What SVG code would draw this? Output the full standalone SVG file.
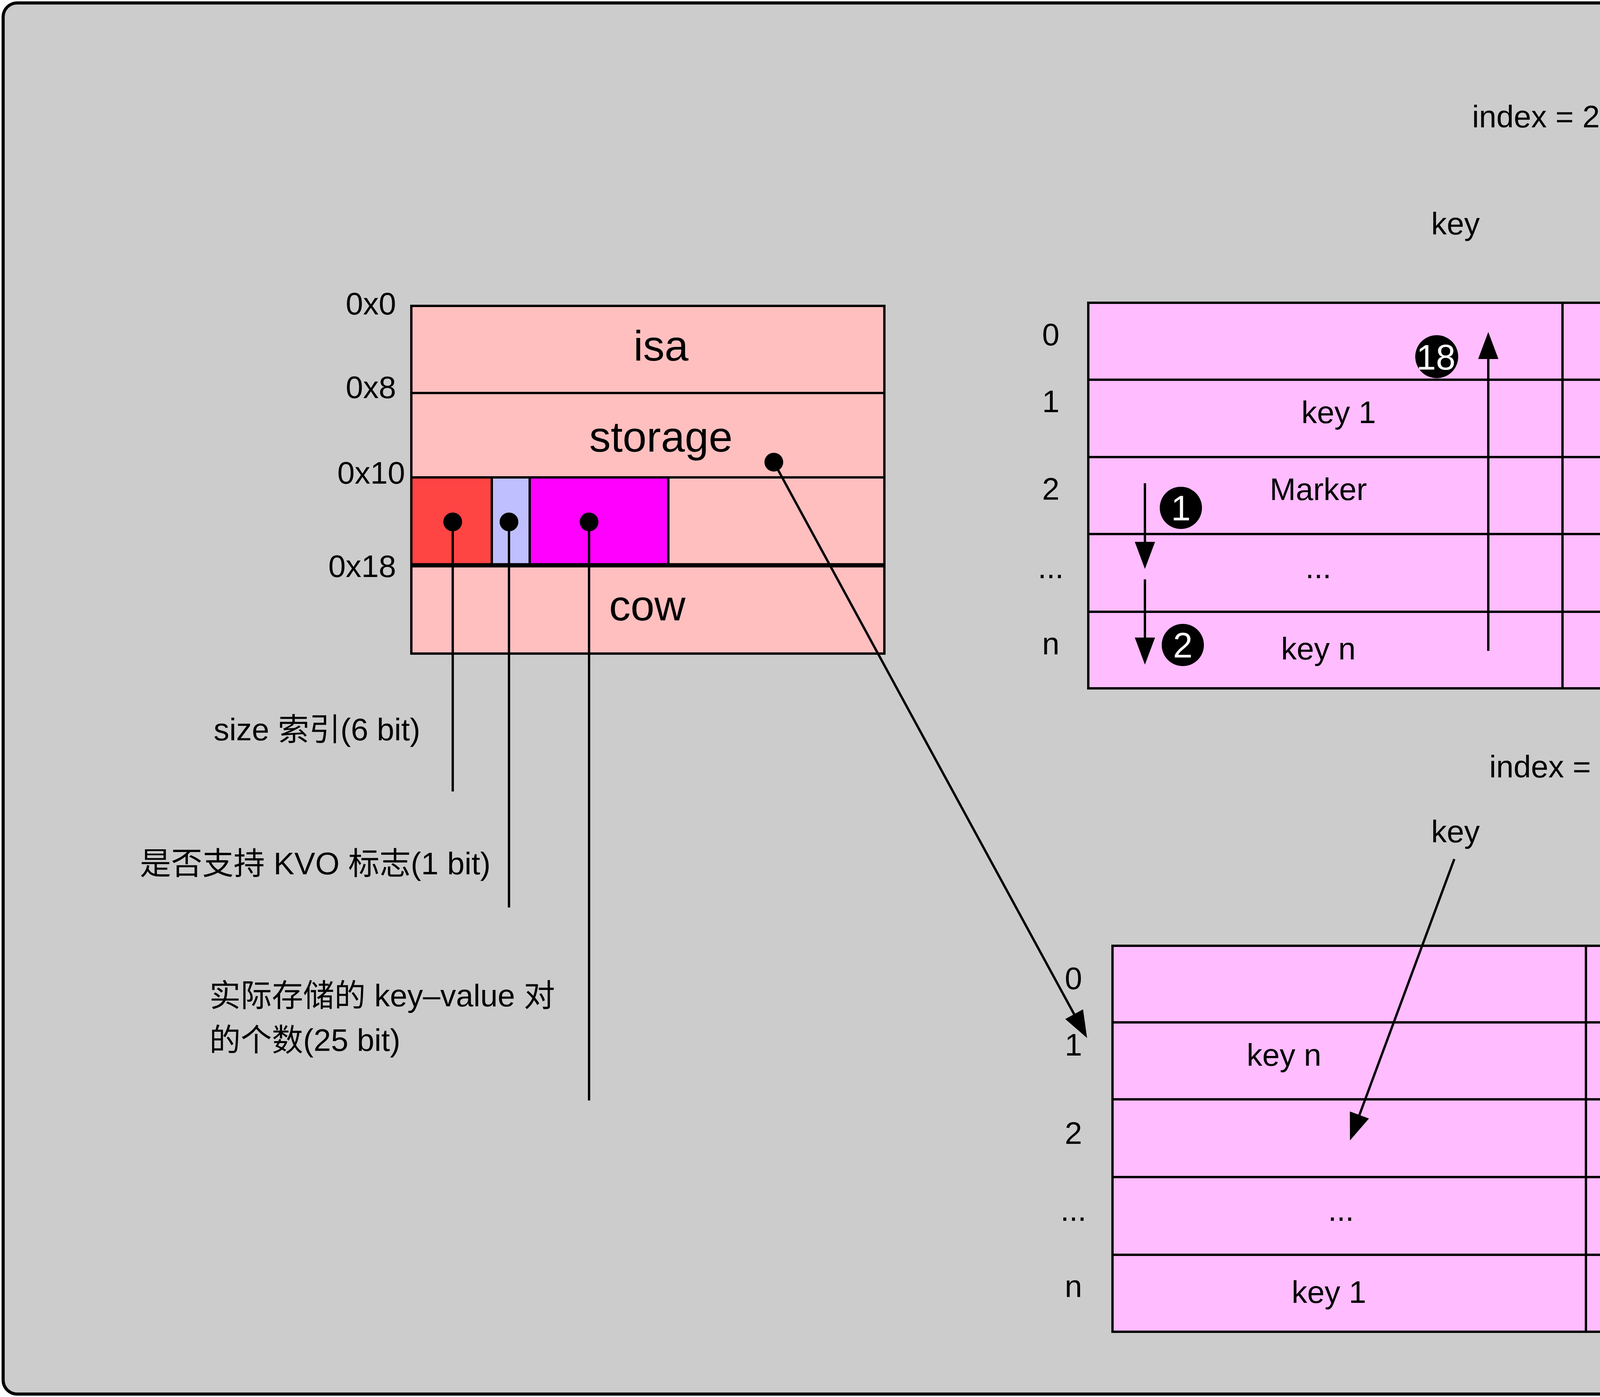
<svg xmlns="http://www.w3.org/2000/svg" width="6611" height="3576" viewBox="0 0 6611 3576">
<defs>
<style>
.t{font-family:"Liberation Sans","Noto Sans CJK SC",Arial,sans-serif;font-size:80px;fill:#000}
.c{text-anchor:middle}
.e{text-anchor:end}
.big{font-size:110px}
.w{fill:#fff;font-size:90px}
.ln{stroke:#000;stroke-width:6;fill:none}
.pk{fill:#FFBFBF;stroke:#000;stroke-width:6}
.mg{fill:#FFBCFF;stroke:#000;stroke-width:6}
.conn{stroke:#000;stroke-width:6;fill:none}
.arr{stroke:#000;stroke-width:6;fill:none;marker-end:url(#ah)}
</style>
<marker id="ah" markerUnits="userSpaceOnUse" markerWidth="70" markerHeight="52" viewBox="0 0 68 51" refX="58" refY="25.5" orient="auto">
<path d="M0,0 L68,25.5 L0,51 Z" fill="#000"/>
</marker>
</defs>

<g id="background">
<rect x="8" y="7.5" width="6596" height="3561" rx="36" ry="36" fill="#CCCCCC" stroke="#000" stroke-width="8"/>
</g>

<g id="object-layout">
<rect class="pk" x="1053" y="783" width="1211" height="223"/>
<rect class="pk" x="1053" y="1006" width="1211" height="216"/>
<rect class="pk" x="1053" y="1222" width="1211" height="224"/>
<rect x="1053" y="1222" width="206" height="224" fill="#FF4444" stroke="#000" stroke-width="6"/>
<rect x="1259" y="1222" width="97" height="224" fill="#BFBFFF" stroke="#000" stroke-width="6"/>
<rect x="1356" y="1222" width="355" height="224" fill="#FF00FF" stroke="#000" stroke-width="6"/>
<rect class="pk" x="1053" y="1446" width="1211" height="227"/>
<line x1="1053" y1="1447" x2="2264" y2="1447" stroke="#000" stroke-width="11"/>
<text class="t big c" x="1692" y="923">isa</text>
<text class="t big c" x="1692" y="1156">storage</text>
<text class="t big c" x="1657" y="1588">cow</text>
<text class="t e" x="1014" y="805">0x0</text>
<text class="t e" x="1014" y="1019">0x8</text>
<text class="t e" x="1037" y="1238">0x10</text>
<text class="t e" x="1014" y="1477">0x18</text>
</g>

<g id="bit-labels">
<text class="t" x="547" y="1895">size 索引(6 bit)</text>
<text class="t" x="358" y="2238">是否支持 KVO 标志(1 bit)</text>
<text class="t" x="536" y="2576">实际存储的 key–value 对</text>
<text class="t" x="536" y="2690">的个数(25 bit)</text>
</g>

<g id="top-table">
<text class="t c" x="3932" y="326">index = 2</text>
<text class="t c" x="3726" y="600">key</text>
<text class="t c" x="4200" y="600">value</text>
<rect class="mg" x="2786" y="775" width="1214" height="197"/>
<rect class="mg" x="4000" y="775" width="1212" height="197"/>
<rect class="mg" x="2786" y="972" width="1214" height="198"/>
<rect class="mg" x="4000" y="972" width="1212" height="198"/>
<rect class="mg" x="2786" y="1170" width="1214" height="197"/>
<rect class="mg" x="4000" y="1170" width="1212" height="197"/>
<rect class="mg" x="2786" y="1367" width="1214" height="199"/>
<rect class="mg" x="4000" y="1367" width="1212" height="199"/>
<rect class="mg" x="2786" y="1566" width="1214" height="196"/>
<rect class="mg" x="4000" y="1566" width="1212" height="196"/>
<text class="t c" x="2690" y="884">0</text>
<text class="t c" x="2690" y="1055">1</text>
<text class="t c" x="2690" y="1279">2</text>
<text class="t c" x="2690" y="1480">...</text>
<text class="t c" x="2690" y="1675">n</text>
<text class="t c" x="3427" y="1083">key 1</text>
<text class="t c" x="4597" y="1091">value 1</text>
<text class="t c" x="3375" y="1280">Marker</text>
<text class="t c" x="3375" y="1480">...</text>
<text class="t c" x="3375" y="1688">key n</text>
<text class="t c" x="4537" y="1694">value n</text>
</g>

<g id="step-18">
<circle cx="3678" cy="913" r="55" fill="#000"/>
<text class="t w c" x="3676" y="946">18</text>
</g>
<g id="step-1">
<circle cx="3023" cy="1300" r="54" fill="#000"/>
<text class="t w c" x="3023" y="1332">1</text>
</g>
<g id="step-2">
<circle cx="3028" cy="1651" r="54" fill="#000"/>
<text class="t w c" x="3028" y="1683">2</text>
</g>

<g id="bottom-table">
<text class="t c" x="3976" y="1990">index = 2</text>
<text class="t c" x="3726" y="2156">key</text>
<text class="t c" x="4200" y="2156">value</text>
<rect class="mg" x="2848" y="2421" width="1212" height="196"/>
<rect class="mg" x="4060" y="2421" width="1211" height="196"/>
<rect class="mg" x="2848" y="2617" width="1212" height="197"/>
<rect class="mg" x="4060" y="2617" width="1211" height="197"/>
<rect class="mg" x="2848" y="2814" width="1212" height="199"/>
<rect class="mg" x="4060" y="2814" width="1211" height="199"/>
<rect class="mg" x="2848" y="3013" width="1212" height="199"/>
<rect class="mg" x="4060" y="3013" width="1211" height="199"/>
<rect class="mg" x="2848" y="3212" width="1212" height="197"/>
<rect class="mg" x="4060" y="3212" width="1211" height="197"/>
<text class="t c" x="2748" y="2532">0</text>
<text class="t c" x="2748" y="2702">1</text>
<text class="t c" x="2748" y="2928">2</text>
<text class="t c" x="2748" y="3125">...</text>
<text class="t c" x="2748" y="3320">n</text>
<text class="t c" x="3287" y="2728">key n</text>
<text class="t c" x="4722" y="2743">value n</text>
<text class="t c" x="3433" y="3125">...</text>
<text class="t c" x="3402" y="3335">key 1</text>
<text class="t c" x="4601" y="3335">value 1</text>
</g>

<g id="note">
<path d="M5581,1088 L6300,1088 Q6335,1088 6360,1102 L6505,1142 Q6536,1155 6536,1185 L6536,1422 L5581,1422 Z" fill="#FFFF00" stroke="#000" stroke-width="6" stroke-linejoin="round"/>
<path d="M6322,1090 Q6344,1098 6345,1135 L6345,1157 L6488,1157 Q6526,1160 6532,1172" fill="#FFFF00" stroke="#000" stroke-width="6" stroke-linejoin="round"/>
<text class="t c" x="6058" y="1285" style="font-size:110px">会被回收</text>
</g>

<g id="connectors">
<line class="conn" x1="1159" y1="1336" x2="1159" y2="2026"/>
<line class="conn" x1="1303" y1="1336" x2="1303" y2="2323"/>
<line class="conn" x1="1508" y1="1336" x2="1508" y2="2817"/>
<circle cx="1159" cy="1336" r="24" fill="#000"/>
<circle cx="1303" cy="1336" r="24" fill="#000"/>
<circle cx="1508" cy="1336" r="24" fill="#000"/>
<line class="arr" x1="1981" y1="1183" x2="2778" y2="2648"/>
<circle cx="1981" cy="1183" r="24" fill="#000"/>
<line class="arr" x1="2931" y1="1237" x2="2931" y2="1446"/>
<line class="arr" x1="2931" y1="1483" x2="2931" y2="1691"/>
<line class="arr" x1="3810" y1="1666" x2="3810" y2="860"/>
<line class="arr" x1="3723" y1="2199" x2="3459.5" y2="2909.6"/>
<line class="arr" x1="4257" y1="2187" x2="4581" y2="2928"/>
<line x1="5269" y1="1262" x2="5581" y2="1262" stroke="#888888" stroke-width="8" stroke-dasharray="28,28"/>
<circle cx="5247" cy="1263" r="22" fill="none" stroke="#888888" stroke-width="7"/>
</g>
</svg>
